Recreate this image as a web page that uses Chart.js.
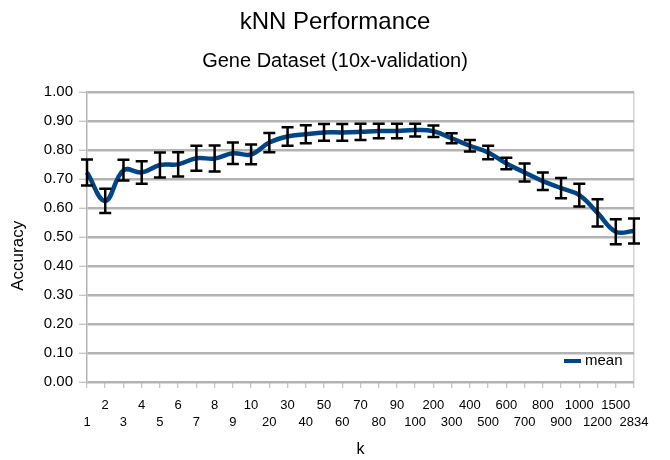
<!DOCTYPE html>
<html>
<head>
<meta charset="utf-8">
<script src="https://cdn.jsdelivr.net/npm/chart.js@4.4.0/dist/chart.umd.min.js"></script>
<style>
  body { margin: 0; background: #fff; }
</style>
</head>
<body>
<canvas id="knnChart" width="670" height="460"></canvas>
<script>
  // k values on the x axis
  const kValues = ['1', '2', '3', '4', '5', '6', '7', '8', '9', '10',
    '20', '30', '40', '50', '60', '70', '80', '90', '100',
    '200', '300', '400', '500', '600', '700', '800', '900', '1000',
    '1200', '1500', '2834'];

  // mean accuracy per k
  const meanAcc = [0.722, 0.624, 0.730, 0.722, 0.748, 0.750, 0.771, 0.770, 0.788, 0.784,
    0.825, 0.846, 0.854, 0.860, 0.860, 0.862, 0.865, 0.865, 0.868,
    0.864, 0.840, 0.814, 0.791, 0.753, 0.722, 0.692, 0.668, 0.644,
    0.583, 0.518, 0.520];

  // error (+/-) per k
  const errAcc = [0.045, 0.042, 0.036, 0.039, 0.043, 0.042, 0.043, 0.045, 0.037, 0.034,
    0.033, 0.032, 0.031, 0.029, 0.029, 0.028, 0.025, 0.025, 0.022,
    0.020, 0.017, 0.020, 0.023, 0.020, 0.031, 0.030, 0.035, 0.039,
    0.047, 0.043, 0.043];

  const seriesName = 'mean';
  const lineColor = '#004586';
  const fontFamily = '"Liberation Sans", Arial, sans-serif';

  Chart.defaults.font.family = fontFamily;
  Chart.defaults.color = '#000';

  // staggered labels: odd positions on the lower row, even on the upper row
  const xLabels = kValues.map((k, i) => (i % 2 === 0 ? ['', k] : [k, '']));

  const errorBarPlugin = {
    id: 'errorBars',
    afterDatasetsDraw(chart) {
      const { ctx, scales: { x, y } } = chart;
      ctx.save();
      ctx.strokeStyle = '#000';
      ctx.lineWidth = 2.5;
      meanAcc.forEach((m, i) => {
        const px = x.getPixelForValue(i);
        const top = y.getPixelForValue(m + errAcc[i]);
        const bot = y.getPixelForValue(m - errAcc[i]);
        ctx.beginPath();
        ctx.moveTo(px, top); ctx.lineTo(px, bot);
        ctx.moveTo(px - 6, top); ctx.lineTo(px + 6, top);
        ctx.moveTo(px - 6, bot); ctx.lineTo(px + 6, bot);
        ctx.stroke();
      });
      ctx.restore();
    }
  };

  // legend sits inside the plot, bottom right
  const insideLegend = {
    id: 'insideLegend',
    afterDraw(chart) {
      const { ctx, chartArea } = chart;
      const x = chartArea.right - 70;
      const y = chartArea.bottom - 21;
      ctx.save();
      ctx.strokeStyle = lineColor;
      ctx.lineWidth = 4;
      ctx.beginPath();
      ctx.moveTo(x, y);
      ctx.lineTo(x + 17, y);
      ctx.stroke();
      ctx.fillStyle = '#000';
      ctx.font = '15px ' + fontFamily;
      ctx.textBaseline = 'middle';
      ctx.fillText(seriesName, x + 21, y);
      ctx.restore();
    }
  };

  new Chart(document.getElementById('knnChart'), {
    type: 'line',
    data: {
      labels: xLabels,
      datasets: [{
        label: seriesName,
        data: meanAcc,
        borderColor: lineColor,
        backgroundColor: lineColor,
        borderWidth: 4.5,
        tension: 0.4,
        pointRadius: 0,
        fill: false
      }]
    },
    options: {
      responsive: false,
      animation: false,
      layout: { padding: 0 },
      plugins: {
        legend: { display: false },
        tooltip: { enabled: false },
        title: {
          display: true,
          text: 'kNN Performance',
          font: { size: 24, weight: 'normal' },
          padding: { top: 8, bottom: 5 }
        },
        subtitle: {
          display: true,
          text: 'Gene Dataset (10x-validation)',
          color: '#000',
          font: { size: 20, weight: 'normal' },
          padding: { top: 8, bottom: 18 }
        }
      },
      scales: {
        x: {
          offset: false,
          afterFit: s => { s.height = 78; },
          grid: {
            color: c => (c.index === kValues.length - 1 ? '#d4d4d4' : 'rgba(0,0,0,0)'),
            lineWidth: 1.5,
            tickColor: '#b3b3b3',
            tickWidth: 1,
            tickLength: 6
          },
          border: { display: false },
          ticks: {
            autoSkip: false,
            maxRotation: 0,
            minRotation: 0,
            padding: 8,
            font: { size: 13, lineHeight: 1.38 }
          },
          title: {
            display: true,
            text: 'k',
            font: { size: 16 },
            padding: { top: 0, bottom: 1 }
          }
        },
        y: {
          min: 0,
          max: 1,
          afterFit: s => { s.width = 87; },
          grid: {
            color: '#b3b3b3',
            lineWidth: 2.5,
            tickColor: '#b3b3b3',
            tickWidth: 1,
            tickLength: 8
          },
          border: { color: '#b3b3b3', width: 1.5 },
          ticks: {
            stepSize: 0.1,
            padding: 6,
            font: { size: 15 },
            callback: v => v.toFixed(2)
          },
          title: {
            display: true,
            // trailing spaces push the label a little below the axis centre, as in the original
            text: 'Accuracy        ',
            font: { size: 17 },
            padding: { top: 8, bottom: 0 }
          }
        },
        // empty right axis only reserves the right margin
        spacer: {
          type: 'linear',
          position: 'right',
          afterFit: s => { s.width = 36; },
          grid: { display: false },
          border: { display: false },
          ticks: { display: false }
        }
      }
    },
    plugins: [errorBarPlugin, insideLegend]
  });
</script>
</body>
</html>
